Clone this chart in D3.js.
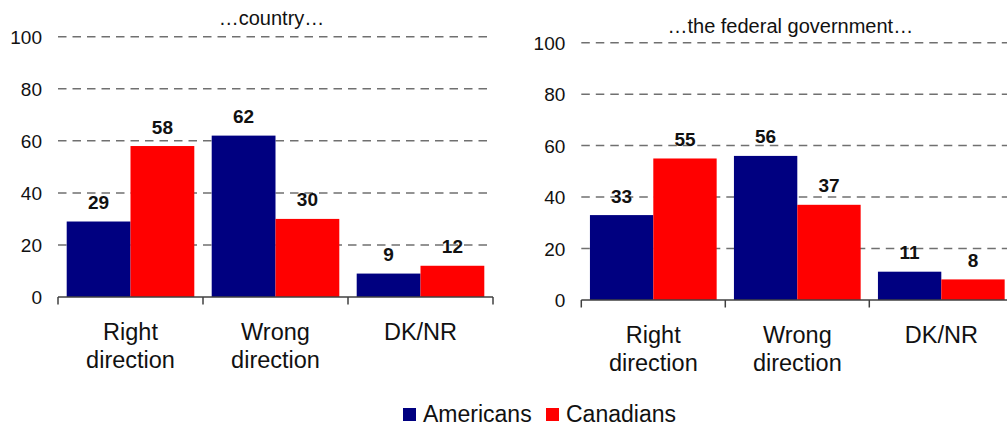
<!DOCTYPE html>
<html>
<head>
<meta charset="utf-8">
<script src="https://cdn.jsdelivr.net/npm/d3@7/dist/d3.min.js"></script>
<style>
  html, body { margin: 0; padding: 0; background: #fff; }
  svg { display: block; font-family: "Liberation Sans", Arial, sans-serif; }
</style>
</head>
<body>
<svg id="chart" width="1007" height="427"></svg>
<script>
// Survey answers, in percent
const categories = ["Right direction", "Wrong direction", "DK/NR"];
const series = ["Americans", "Canadians"];
const countryAmericans = [29, 62, 9];
const countryCanadians = [58, 30, 12];
const governmentAmericans = [33, 56, 11];
const governmentCanadians = [55, 37, 8];
const panelTitles = ["\u2026country\u2026", "\u2026the federal government\u2026"];
const yTicks = [0, 20, 40, 60, 80, 100];
const seriesColors = ["#000080", "#ff0000"];

const svg = d3.select("#chart");

const panels = [
  { title: panelTitles[0], values: [countryAmericans, countryCanadians],
    x0: 58, x1: 493, yTop: 36.7, yBase: 297, titleY: 25, titleShift: -4 },
  { title: panelTitles[1], values: [governmentAmericans, governmentCanadians],
    x0: 581.3, x1: 1013.3, yTop: 42.7, yBase: 300, titleY: 33, titleShift: -7 }
];

panels.forEach(p => {
  const g = svg.append("g");

  const x = d3.scaleBand().domain(categories).range([p.x0, p.x1]).padding(0);
  const bw = x.bandwidth();
  const xs = d3.scaleBand().domain(series).range([bw * 0.06, bw * 0.94]).padding(0);
  const y = d3.scaleLinear().domain([0, 100]).range([p.yBase, p.yTop]);

  // dashed gridlines
  g.append("g")
    .selectAll("line")
    .data(yTicks.filter(t => t > 0))
    .join("line")
    .attr("x1", p.x0).attr("x2", p.x1)
    .attr("y1", d => y(d)).attr("y2", d => y(d))
    .attr("stroke", "#707070")
    .attr("stroke-width", 1.5)
    .attr("stroke-dasharray", "8.5,6");

  // y tick labels
  const yAxis = d3.axisLeft(y).tickValues(yTicks).tickSize(0).tickPadding(16);
  const ya = g.append("g").attr("transform", `translate(${p.x0},0)`).call(yAxis);
  ya.select(".domain").remove();
  ya.selectAll("text")
    .attr("font-size", 19)
    .attr("font-family", "Liberation Sans, Arial, sans-serif")
    .attr("fill", "#111")
    .attr("dy", "0.34em");

  // bars
  const groups = g.append("g")
    .selectAll("g")
    .data(categories)
    .join("g")
    .attr("transform", c => `translate(${x(c)},0)`);

  groups.selectAll("rect")
    .data((c, i) => series.map((s, j) => ({ s, j, v: p.values[j][i] })))
    .join("rect")
    .attr("x", d => xs(d.s))
    .attr("width", xs.bandwidth())
    .attr("y", d => y(d.v))
    .attr("height", d => y(0) - y(d.v))
    .attr("fill", d => seriesColors[d.j]);

  groups.selectAll("text.val")
    .data((c, i) => series.map((s, j) => ({ s, j, v: p.values[j][i] })))
    .join("text")
    .attr("class", "val")
    .attr("x", d => xs(d.s) + xs.bandwidth() / 2)
    .attr("y", d => y(d.v) - 12.5)
    .attr("text-anchor", "middle")
    .attr("font-size", 19)
    .attr("font-weight", "bold")
    .attr("fill", "#111")
    .text(d => d.v);

  // category axis with boundary ticks
  g.append("line")
    .attr("x1", p.x0).attr("x2", p.x1)
    .attr("y1", y(0)).attr("y2", y(0))
    .attr("stroke", "#404040").attr("stroke-width", 1.5);

  const bounds = categories.map(c => x(c)).concat([p.x1]);
  g.append("g")
    .selectAll("line")
    .data(bounds)
    .join("line")
    .attr("x1", d => d).attr("x2", d => d)
    .attr("y1", y(0)).attr("y2", y(0) + 7.5)
    .attr("stroke", "#404040").attr("stroke-width", 1.5);

  // category labels (two lines where needed)
  const labels = g.append("g")
    .selectAll("text")
    .data(categories)
    .join("text")
    .attr("text-anchor", "middle")
    .attr("font-size", 23.5)
    .attr("fill", "#111")
    .attr("transform", c => `translate(${x(c) + bw / 2},${p.yBase + 43})`);
  labels.selectAll("tspan")
    .data(c => c.split(" "))
    .join("tspan")
    .attr("x", 0)
    .attr("dy", (d, i) => i === 0 ? 0 : 28)
    .text(d => d);

  // panel title
  g.append("text")
    .attr("x", (p.x0 + p.x1) / 2 + p.titleShift)
    .attr("y", p.titleY)
    .attr("text-anchor", "middle")
    .attr("font-size", 20)
    .attr("fill", "#111")
    .text(p.title);
});

// legend
const legend = svg.append("g").attr("transform", "translate(403,408)");
const legendX = [0, 143];
series.forEach((s, i) => {
  const item = legend.append("g").attr("transform", `translate(${legendX[i]},0)`);
  item.append("rect").attr("width", 13).attr("height", 13).attr("fill", seriesColors[i]);
  item.append("text")
    .attr("x", 20).attr("y", 13.5)
    .attr("font-size", 23)
    .attr("fill", "#111")
    .text(s);
});
</script>
</body>
</html>
